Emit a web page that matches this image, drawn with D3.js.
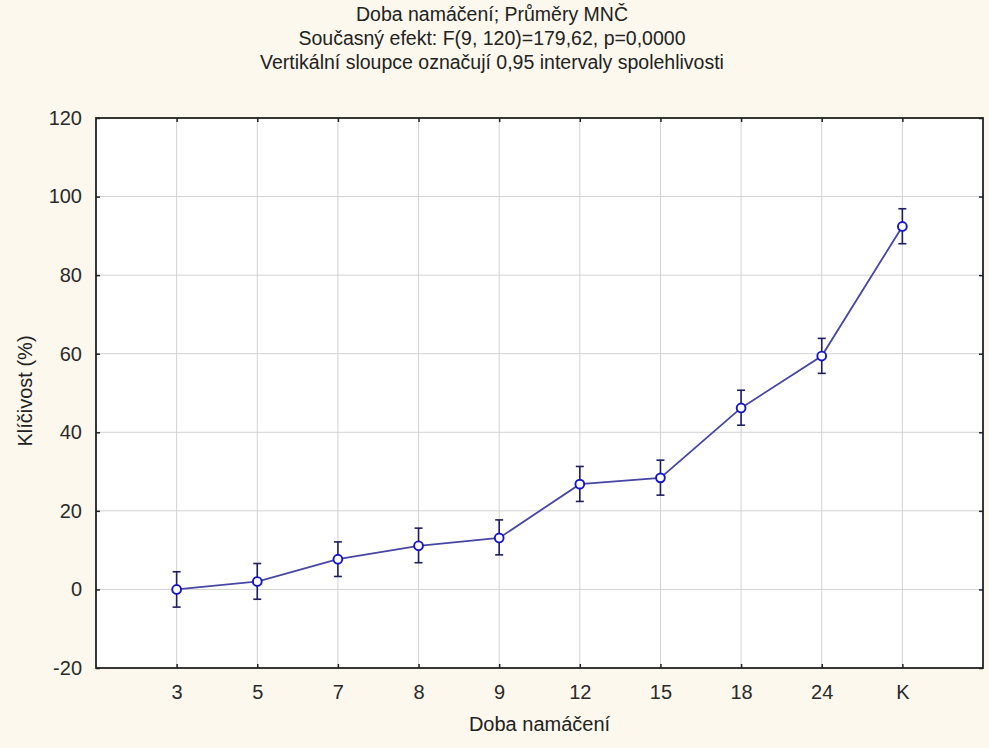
<!DOCTYPE html>
<html>
<head>
<meta charset="utf-8">
<script src="https://cdn.jsdelivr.net/npm/d3@7"></script>
<style>
  html, body { margin: 0; padding: 0; background: #fcf8ed; }
  svg { display: block; font-family: "Liberation Sans", Arial, sans-serif; }
</style>
</head>
<body>
<svg id="chart" width="989" height="748"></svg>
<script>
// Soaking time categories (hours; K = control)
const categories = ["3", "5", "7", "8", "9", "12", "15", "18", "24", "K"];
// Least-squares means of germination (%)
const means = [0.0, 2.0, 7.7, 11.1, 13.1, 26.8, 28.4, 46.2, 59.4, 92.4];
// 0.95 confidence interval bounds
const lower = [-4.5, -2.5, 3.3, 6.8, 8.8, 22.4, 24.0, 41.8, 55.0, 88.0];
const upper = [4.5, 6.6, 12.1, 15.6, 17.7, 31.3, 32.9, 50.7, 63.9, 96.9];
const yTicks = [-20, 0, 20, 40, 60, 80, 100, 120];
const titleLines = [
  "Doba namáčení; Průměry MNČ",
  "Současný efekt: F(9, 120)=179,62, p=0,0000",
  "Vertikální sloupce označují 0,95 intervaly spolehlivosti"
];
const xTitle = "Doba namáčení";
const yTitle = "Klíčivost (%)";

const svg = d3.select("#chart");
const m = { left: 96, right: 983, top: 118, bottom: 668 };

const x = d3.scalePoint().domain(categories).range([m.left, m.right]).padding(1);
const y = d3.scaleLinear().domain([-20, 120]).range([m.bottom, m.top]);

// plot area
svg.append("rect")
  .attr("x", m.left).attr("y", m.top)
  .attr("width", m.right - m.left).attr("height", m.bottom - m.top)
  .attr("fill", "#ffffff");

// grid
const grid = svg.append("g").attr("stroke", "#d2d2d2").attr("stroke-width", 1);
grid.selectAll("line.gx").data(categories).join("line")
  .attr("x1", d => x(d)).attr("x2", d => x(d))
  .attr("y1", m.top).attr("y2", m.bottom);
grid.selectAll("line.gy").data(yTicks.filter(t => t > -20 && t < 120)).join("line")
  .attr("x1", m.left).attr("x2", m.right)
  .attr("y1", d => y(d)).attr("y2", d => y(d));

// axes with inward ticks
const styleAxis = g => {
  g.select(".domain").remove();
  g.selectAll(".tick line").attr("stroke", "#222").attr("stroke-width", 1.5);
  g.selectAll(".tick text").attr("fill", "#2a2a2a").attr("font-size", 20);
};
svg.append("g").attr("transform", `translate(${m.left},0)`)
  .call(d3.axisLeft(y).tickValues(yTicks).tickSize(-4).tickPadding(14).tickFormat(d => String(d)))
  .call(styleAxis);
svg.append("g").attr("transform", `translate(${m.right},0)`)
  .call(d3.axisRight(y).tickValues(yTicks).tickSize(-4).tickFormat(""))
  .call(styleAxis);
svg.append("g").attr("transform", `translate(0,${m.bottom})`)
  .call(d3.axisBottom(x).tickSize(-4).tickPadding(17))
  .call(styleAxis);
svg.append("g").attr("transform", `translate(0,${m.top})`)
  .call(d3.axisTop(x).tickSize(-4).tickFormat(""))
  .call(styleAxis);

// frame
svg.append("rect")
  .attr("x", m.left).attr("y", m.top)
  .attr("width", m.right - m.left).attr("height", m.bottom - m.top)
  .attr("fill", "none").attr("stroke", "#222").attr("stroke-width", 1.8);

// mean line
const pts = categories.map((c, i) => ({ c, v: means[i], lo: lower[i], hi: upper[i] }));
svg.append("path").datum(pts)
  .attr("fill", "none").attr("stroke", "#4646a4").attr("stroke-width", 1.8)
  .attr("d", d3.line().x(d => x(d.c)).y(d => y(d.v)));

// confidence interval whiskers
const eb = svg.append("g").attr("stroke", "#1e1e62").attr("stroke-width", 1.6);
eb.selectAll("line.v").data(pts).join("line")
  .attr("x1", d => x(d.c)).attr("x2", d => x(d.c))
  .attr("y1", d => y(d.lo)).attr("y2", d => y(d.hi));
eb.selectAll("line.t").data(pts).join("line")
  .attr("x1", d => x(d.c) - 4).attr("x2", d => x(d.c) + 4)
  .attr("y1", d => y(d.hi)).attr("y2", d => y(d.hi));
eb.selectAll("line.b").data(pts).join("line")
  .attr("x1", d => x(d.c) - 4).attr("x2", d => x(d.c) + 4)
  .attr("y1", d => y(d.lo)).attr("y2", d => y(d.lo));

// markers
svg.append("g").selectAll("circle").data(pts).join("circle")
  .attr("cx", d => x(d.c)).attr("cy", d => y(d.v)).attr("r", 4.4)
  .attr("fill", "#ffffff").attr("stroke", "#1414c8").attr("stroke-width", 1.9);

// titles
svg.append("g").selectAll("text").data(titleLines).join("text")
  .attr("x", 492).attr("y", (d, i) => 21 + i * 24)
  .attr("text-anchor", "middle").attr("font-size", 19.5).attr("fill", "#222")
  .text(d => d);

svg.append("text")
  .attr("x", (m.left + m.right) / 2).attr("y", 731)
  .attr("text-anchor", "middle").attr("font-size", 20).attr("fill", "#222")
  .text(xTitle);

svg.append("text")
  .attr("transform", `translate(32,${(m.top + m.bottom) / 2 - 2}) rotate(-90)`)
  .attr("text-anchor", "middle").attr("font-size", 20).attr("fill", "#222")
  .text(yTitle);
</script>
</body>
</html>
